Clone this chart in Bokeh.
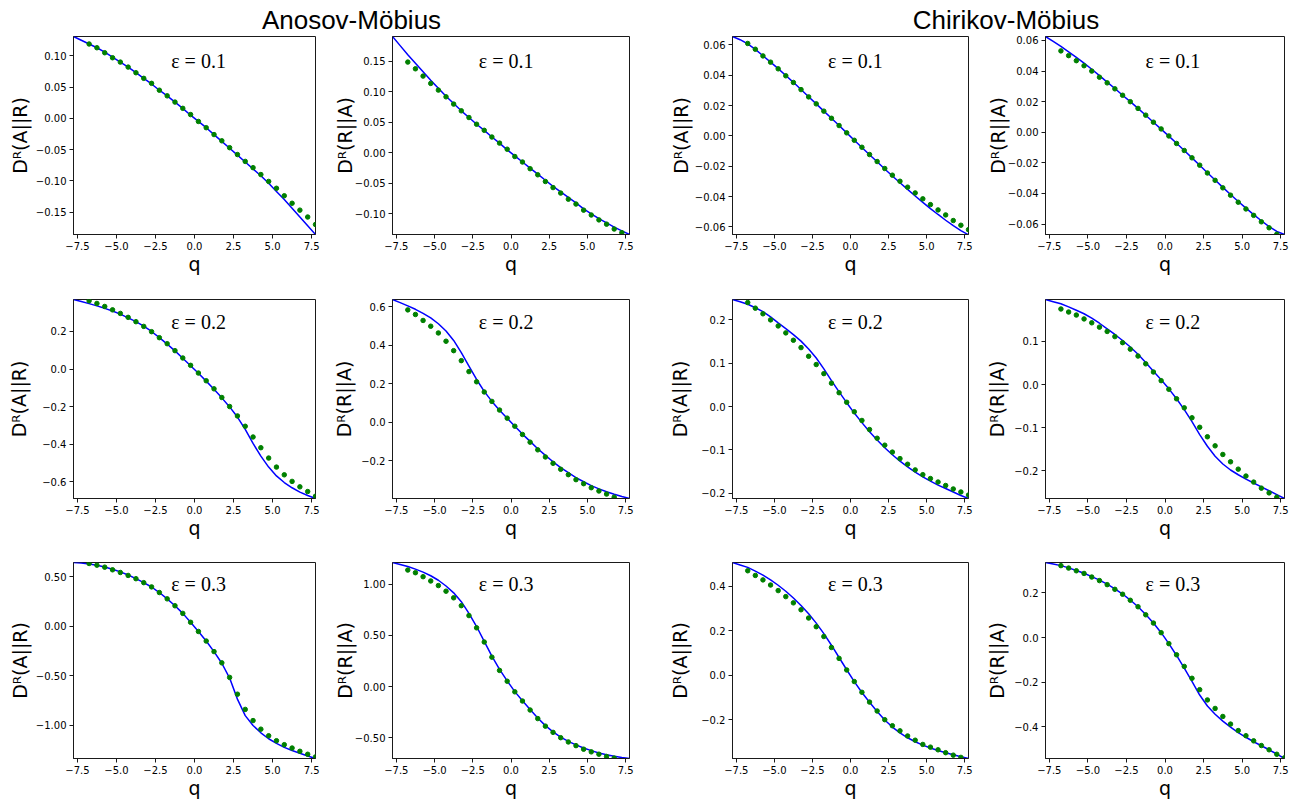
from bokeh.plotting import figure
from bokeh.layouts import column, row
from bokeh.models import Range1d, FixedTicker, Label
from bokeh.embed import file_html
from bokeh.resources import INLINE

# ---------------- data ----------------
Q = [-7.75, -7.25, -6.75, -6.25, -5.75, -5.25, -4.75, -4.25, -3.75, -3.25,
     -2.75, -2.25, -1.75, -1.25, -0.75, -0.25, 0.25, 0.75, 1.25, 1.75,
     2.25, 2.75, 3.25, 3.75, 4.25, 4.75, 5.25, 5.75, 6.25, 6.75, 7.25, 7.75]
Q_DOTS = Q[2:]

GROUPS = ["Anosov-Möbius", "Chirikov-Möbius"]
YLABELS = ["Dᴿ(A||R)", "Dᴿ(R||A)", "Dᴿ(A||R)", "Dᴿ(R||A)"]
EPS_LABELS = ["ε = 0.1", "ε = 0.2", "ε = 0.3"]
X_LABEL = "q"
X_TICKS = [-7.5, -5.0, -2.5, 0.0, 2.5, 5.0, 7.5]
X_TICK_LABELS = ["−7.5", "−5.0", "−2.5", "0.0", "2.5", "5.0", "7.5"]

# eps = 0.1
AM1_AR_LINE = [0.131, 0.125, 0.119, 0.113, 0.106, 0.098, 0.090, 0.082, 0.073, 0.064, 0.055, 0.045, 0.036, 0.026, 0.016, 0.005,
               -0.005, -0.015, -0.026, -0.037, -0.048, -0.059, -0.070, -0.081, -0.092, -0.104, -0.117, -0.130, -0.144, -0.158, -0.172, -0.186]
AM1_AR_DOTS = [0.119, 0.113, 0.105, 0.097, 0.090, 0.082, 0.073, 0.064, 0.056, 0.045, 0.036, 0.026, 0.016, 0.006, -0.005,
               -0.015, -0.026, -0.036, -0.047, -0.058, -0.069, -0.079, -0.090, -0.101, -0.112, -0.124, -0.136, -0.147, -0.158, -0.170]
AM1_RA_LINE = [0.191, 0.176, 0.161, 0.147, 0.133, 0.119, 0.106, 0.093, 0.081, 0.069, 0.058, 0.047, 0.037, 0.026, 0.016, 0.005,
               -0.005, -0.015, -0.025, -0.035, -0.045, -0.055, -0.064, -0.073, -0.082, -0.092, -0.100, -0.108, -0.115, -0.122, -0.128, -0.134]
AM1_RA_DOTS = [0.149, 0.138, 0.126, 0.114, 0.103, 0.092, 0.080, 0.069, 0.058, 0.047, 0.037, 0.026, 0.016, 0.006, -0.006,
               -0.015, -0.026, -0.036, -0.047, -0.057, -0.066, -0.076, -0.084, -0.094, -0.102, -0.110, -0.117, -0.125, -0.131]
CM1_AR_LINE = [0.0655, 0.0634, 0.0606, 0.0570, 0.0528, 0.0486, 0.0443, 0.0398, 0.0353, 0.0306, 0.0258, 0.0211, 0.0163, 0.0116, 0.0068, 0.0020,
               -0.0029, -0.0077, -0.0124, -0.0171, -0.0218, -0.0264, -0.0309, -0.0353, -0.0396, -0.0438, -0.0479, -0.0518, -0.0556, -0.0592, -0.0624, -0.0652]
CM1_AR_DOTS = [0.0609, 0.0571, 0.0527, 0.0486, 0.0442, 0.0396, 0.0352, 0.0305, 0.0257, 0.0211, 0.0163, 0.0116, 0.0068, 0.0020, -0.0029,
               -0.0075, -0.0123, -0.0169, -0.0215, -0.0259, -0.0299, -0.0338, -0.0376, -0.0415, -0.0453, -0.0488, -0.0521, -0.0558, -0.0589, -0.0618]
CM1_RA_LINE = [0.0626, 0.0594, 0.0561, 0.0526, 0.0490, 0.0452, 0.0412, 0.0370, 0.0328, 0.0286, 0.0242, 0.0200, 0.0156, 0.0111, 0.0066, 0.0021,
               -0.0025, -0.0072, -0.0119, -0.0167, -0.0215, -0.0264, -0.0312, -0.0360, -0.0407, -0.0452, -0.0496, -0.0538, -0.0578, -0.0616, -0.0648, -0.0668]
CM1_RA_DOTS = [0.0532, 0.0501, 0.0468, 0.0435, 0.0400, 0.0360, 0.0323, 0.0284, 0.0242, 0.0200, 0.0156, 0.0112, 0.0066, 0.0022, -0.0024,
               -0.0073, -0.0119, -0.0167, -0.0215, -0.0266, -0.0314, -0.0363, -0.0411, -0.0457, -0.0501, -0.0543, -0.0585, -0.0624, -0.0666]

# eps = 0.2
AM2_AR_LINE = [0.370, 0.359, 0.348, 0.336, 0.323, 0.309, 0.292, 0.272, 0.252, 0.228, 0.200, 0.167, 0.133, 0.097, 0.058, 0.018,
               -0.022, -0.064, -0.107, -0.153, -0.201, -0.255, -0.320, -0.395, -0.463, -0.521, -0.568, -0.603, -0.631, -0.654, -0.672, -0.688]
AM2_AR_DOTS = [0.363, 0.349, 0.333, 0.315, 0.296, 0.275, 0.252, 0.227, 0.199, 0.167, 0.135, 0.098, 0.059, 0.020, -0.021,
               -0.062, -0.105, -0.151, -0.199, -0.249, -0.304, -0.361, -0.418, -0.473, -0.521, -0.562, -0.597, -0.626, -0.651, -0.676]
AM2_RA_LINE = [0.638, 0.622, 0.605, 0.587, 0.566, 0.542, 0.512, 0.474, 0.425, 0.362, 0.292, 0.222, 0.160, 0.108, 0.062, 0.020,
               -0.021, -0.062, -0.100, -0.138, -0.173, -0.206, -0.236, -0.263, -0.288, -0.310, -0.330, -0.347, -0.362, -0.375, -0.387, -0.397]
AM2_RA_DOTS = [0.584, 0.560, 0.529, 0.499, 0.464, 0.421, 0.372, 0.320, 0.263, 0.210, 0.157, 0.108, 0.063, 0.021, -0.021,
               -0.064, -0.104, -0.144, -0.181, -0.214, -0.245, -0.273, -0.299, -0.320, -0.341, -0.358, -0.374, -0.390]
CM2_AR_LINE = [0.247, 0.242, 0.236, 0.228, 0.219, 0.207, 0.193, 0.180, 0.166, 0.151, 0.133, 0.112, 0.087, 0.060, 0.034, 0.009,
               -0.015, -0.037, -0.058, -0.077, -0.095, -0.111, -0.126, -0.139, -0.151, -0.162, -0.172, -0.181, -0.189, -0.197, -0.205, -0.212]
CM2_AR_DOTS = [0.240, 0.227, 0.214, 0.200, 0.186, 0.170, 0.153, 0.136, 0.116, 0.097, 0.076, 0.054, 0.032, 0.010, -0.012,
               -0.032, -0.053, -0.073, -0.089, -0.105, -0.120, -0.133, -0.146, -0.157, -0.166, -0.174, -0.182, -0.190, -0.197, -0.204]
CM2_RA_LINE = [0.197, 0.192, 0.187, 0.180, 0.172, 0.164, 0.154, 0.142, 0.129, 0.116, 0.102, 0.087, 0.070, 0.051, 0.031, 0.011,
               -0.010, -0.033, -0.058, -0.086, -0.116, -0.143, -0.166, -0.184, -0.198, -0.209, -0.219, -0.228, -0.237, -0.246, -0.255, -0.264]
CM2_RA_DOTS = [0.175, 0.168, 0.161, 0.152, 0.143, 0.133, 0.123, 0.111, 0.097, 0.082, 0.066, 0.048, 0.029, 0.009, -0.011,
               -0.033, -0.054, -0.077, -0.099, -0.121, -0.142, -0.162, -0.179, -0.196, -0.212, -0.226, -0.240, -0.251, -0.261]

# eps = 0.3
AM3_AR_LINE = [0.645, 0.639, 0.630, 0.618, 0.600, 0.577, 0.550, 0.518, 0.482, 0.442, 0.397, 0.341, 0.277, 0.207, 0.130, 0.040,
               -0.053, -0.150, -0.257, -0.375, -0.525, -0.738, -0.905, -1.005, -1.079, -1.139, -1.186, -1.226, -1.258, -1.286, -1.313, -1.339]
AM3_AR_DOTS = [0.635, 0.618, 0.598, 0.571, 0.544, 0.514, 0.481, 0.441, 0.398, 0.341, 0.277, 0.207, 0.130, 0.040, -0.053,
               -0.150, -0.257, -0.371, -0.518, -0.688, -0.842, -0.955, -1.042, -1.109, -1.159, -1.199, -1.233, -1.266, -1.296, -1.323]
AM3_RA_LINE = [1.215, 1.196, 1.176, 1.150, 1.121, 1.085, 1.041, 0.985, 0.918, 0.831, 0.717, 0.588, 0.443, 0.297, 0.168, 0.055,
               -0.050, -0.140, -0.226, -0.309, -0.383, -0.444, -0.495, -0.537, -0.572, -0.602, -0.628, -0.651, -0.669, -0.684, -0.696, -0.705]
AM3_RA_DOTS = [1.141, 1.115, 1.076, 1.034, 0.989, 0.934, 0.869, 0.792, 0.695, 0.575, 0.436, 0.288, 0.158, 0.052, -0.052,
               -0.142, -0.230, -0.314, -0.388, -0.449, -0.501, -0.543, -0.579, -0.614, -0.640, -0.663, -0.685, -0.701]
CM3_AR_LINE = [0.506, 0.495, 0.484, 0.467, 0.449, 0.428, 0.404, 0.377, 0.347, 0.313, 0.276, 0.234, 0.187, 0.135, 0.080, 0.025,
               -0.028, -0.077, -0.121, -0.162, -0.200, -0.232, -0.258, -0.280, -0.298, -0.313, -0.326, -0.337, -0.347, -0.356, -0.365, -0.373]
CM3_AR_DOTS = [0.469, 0.448, 0.428, 0.405, 0.380, 0.353, 0.325, 0.294, 0.257, 0.218, 0.174, 0.125, 0.076, 0.024, -0.028,
               -0.076, -0.120, -0.160, -0.199, -0.226, -0.249, -0.272, -0.291, -0.310, -0.322, -0.334, -0.347, -0.358, -0.368]
CM3_RA_LINE = [0.336, 0.329, 0.322, 0.312, 0.300, 0.288, 0.273, 0.257, 0.239, 0.218, 0.195, 0.168, 0.138, 0.103, 0.065, 0.022,
               -0.027, -0.080, -0.137, -0.196, -0.257, -0.306, -0.343, -0.374, -0.401, -0.425, -0.446, -0.466, -0.484, -0.502, -0.521, -0.541]
CM3_RA_DOTS = [0.322, 0.311, 0.299, 0.287, 0.271, 0.255, 0.237, 0.216, 0.194, 0.167, 0.138, 0.102, 0.065, 0.022, -0.027,
               -0.077, -0.129, -0.182, -0.233, -0.279, -0.317, -0.353, -0.387, -0.416, -0.439, -0.462, -0.483, -0.502, -0.522, -0.538]

# y axis limits and ticks per panel (rows: eps, columns: AM A||R, AM R||A, CM A||R, CM R||A)
Y_LIMITS = [
    [(-0.186, 0.131), (-0.134, 0.191), (-0.065, 0.0655), (-0.0668, 0.0626)],
    [(-0.688, 0.370), (-0.397, 0.638), (-0.212, 0.247), (-0.264, 0.197)],
    [(-1.339, 0.645), (-0.705, 1.215), (-0.373, 0.506), (-0.541, 0.336)],
]
Y_TICKS = [
    [[-0.15, -0.10, -0.05, 0.0, 0.05, 0.10], [-0.10, -0.05, 0.0, 0.05, 0.10, 0.15],
     [-0.06, -0.04, -0.02, 0.0, 0.02, 0.04, 0.06], [-0.06, -0.04, -0.02, 0.0, 0.02, 0.04, 0.06]],
    [[-0.6, -0.4, -0.2, 0.0, 0.2], [-0.2, 0.0, 0.2, 0.4, 0.6],
     [-0.2, -0.1, 0.0, 0.1, 0.2], [-0.2, -0.1, 0.0, 0.1]],
    [[-1.0, -0.5, 0.0, 0.5], [-0.5, 0.0, 0.5, 1.0],
     [-0.2, 0.0, 0.2, 0.4], [-0.4, -0.2, 0.0, 0.2]],
]
Y_TICK_LABELS = [
    [["−0.15", "−0.10", "−0.05", "0.00", "0.05", "0.10"], ["−0.10", "−0.05", "0.00", "0.05", "0.10", "0.15"],
     ["−0.06", "−0.04", "−0.02", "0.00", "0.02", "0.04", "0.06"], ["−0.06", "−0.04", "−0.02", "0.00", "0.02", "0.04", "0.06"]],
    [["−0.6", "−0.4", "−0.2", "0.0", "0.2"], ["−0.2", "0.0", "0.2", "0.4", "0.6"],
     ["−0.2", "−0.1", "0.0", "0.1", "0.2"], ["−0.2", "−0.1", "0.0", "0.1"]],
    [["−1.00", "−0.50", "0.00", "0.50"], ["−0.50", "0.00", "0.50", "1.00"],
     ["−0.2", "0.0", "0.2", "0.4"], ["−0.4", "−0.2", "0.0", "0.2"]],
]

LINES = [[AM1_AR_LINE, AM1_RA_LINE, CM1_AR_LINE, CM1_RA_LINE],
         [AM2_AR_LINE, AM2_RA_LINE, CM2_AR_LINE, CM2_RA_LINE],
         [AM3_AR_LINE, AM3_RA_LINE, CM3_AR_LINE, CM3_RA_LINE]]
DOTS = [[AM1_AR_DOTS, AM1_RA_DOTS, CM1_AR_DOTS, CM1_RA_DOTS],
        [AM2_AR_DOTS, AM2_RA_DOTS, CM2_AR_DOTS, CM2_RA_DOTS],
        [AM3_AR_DOTS, AM3_RA_DOTS, CM3_AR_DOTS, CM3_RA_DOTS]]

# ---------------- layout ----------------
COL_LEFT = [73, 59, 61, 60]
COL_FRAME = [242, 240, 241, 241]
COL_RIGHT = [15, 37, 15, 24]
ROW_TOP = [1, 8, 8]
ROW_FRAME = [198, 199, 198]
ROW_BOTTOM = [57, 56, 41]
HEAD_H = 35
HEAD_CY = 19                        # header text centre, px from the top
YLABEL_DIST = [51, 45, 49, 45]      # frame left edge -> y label centre
EPS_X = [0.26, -0.32, 0.32, 0.51]   # label centre in data units
EPS_Y_FRAC = [0.124, 0.113, 0.108]  # label centre below frame top, fraction of frame
FONT = "DejaVu Sans"
TICK_PX = 10
LABEL_PX = 19
CHAR_W = {"−": 0.838, ".": 0.318}


def label_width(s):
    return sum(CHAR_W.get(c, 0.636) for c in s) * TICK_PX


def make_panel(r, c):
    lo, hi = Y_LIMITS[r][c]
    p = figure(width=COL_LEFT[c] + COL_FRAME[c] + COL_RIGHT[c],
               height=ROW_TOP[r] + ROW_FRAME[r] + ROW_BOTTOM[r],
               x_range=Range1d(-7.75, 7.75), y_range=Range1d(lo, hi),
               min_border_left=COL_LEFT[c], min_border_right=COL_RIGHT[c],
               min_border_top=ROW_TOP[r], min_border_bottom=ROW_BOTTOM[r],
               title=None, toolbar_location=None, output_backend="svg")
    p.grid.visible = False
    p.outline_line_color = "#1a1a1a"
    p.outline_line_width = 1
    p.background_fill_color = "white"
    p.border_fill_color = "white"

    p.line(Q, LINES[r][c], line_color="blue", line_width=1.5)
    d = DOTS[r][c]
    p.scatter(Q_DOTS[:len(d)], d, size=4.5, color="green")

    for ax in (p.xaxis[0], p.yaxis[0]):
        ax.axis_line_color = "#1a1a1a"
        ax.major_tick_line_color = "#1a1a1a"
        ax.major_tick_in = 0
        ax.major_tick_out = 4
        ax.minor_tick_line_color = None
        ax.major_label_text_font = FONT
        ax.major_label_text_font_size = f"{TICK_PX}px"
        ax.major_label_text_color = "black"
        ax.major_label_standoff = 3
        ax.axis_label_text_font = FONT
        ax.axis_label_text_font_size = f"{LABEL_PX}px"
        ax.axis_label_text_font_style = "normal"
        ax.axis_label_text_color = "black"

    xa = p.xaxis[0]
    xa.ticker = FixedTicker(ticks=X_TICKS)
    xa.major_label_overrides = dict(zip(X_TICKS, X_TICK_LABELS))
    xa.axis_label = X_LABEL
    xa.axis_label_standoff = 0

    ya = p.yaxis[0]
    ya.ticker = FixedTicker(ticks=Y_TICKS[r][c])
    ya.major_label_overrides = dict(zip(Y_TICKS[r][c], Y_TICK_LABELS[r][c]))
    ya.axis_label = YLABELS[c]
    w = max(label_width(s) for s in Y_TICK_LABELS[r][c])
    ya.axis_label_standoff = int(round(YLABEL_DIST[c] - 4 - 3 - w - LABEL_PX * 1.164 / 2))

    p.add_layout(Label(x=EPS_X[c], y=hi - EPS_Y_FRAC[r] * (hi - lo), text=EPS_LABELS[r],
                       text_font="Liberation Serif", text_font_size="20px",
                       text_align="center", text_baseline="middle", text_color="black"))
    return p


TOTAL_W = sum(COL_LEFT) + sum(COL_FRAME) + sum(COL_RIGHT)
head = figure(width=TOTAL_W, height=HEAD_H, x_range=Range1d(0, TOTAL_W), y_range=Range1d(0, HEAD_H),
              x_axis_location=None, y_axis_location=None, min_border=0, title=None,
              toolbar_location=None, output_backend="svg")
head.grid.visible = False
head.outline_line_color = None
head.border_fill_color = "white"
head.background_fill_color = "white"
head_x = [COL_LEFT[0] + (COL_FRAME[0] + COL_RIGHT[0] + COL_LEFT[1] + COL_FRAME[1]) / 2,
          sum(COL_LEFT[:3]) + sum(COL_FRAME[:2]) + sum(COL_RIGHT[:2])
          + (COL_FRAME[2] + COL_RIGHT[2] + COL_LEFT[3] + COL_FRAME[3]) / 2]
for gx, gt in zip(head_x, GROUPS):
    head.add_layout(Label(x=gx, y=HEAD_H - HEAD_CY, text=gt, text_font="Liberation Sans", text_font_size="26px",
                          text_align="center", text_baseline="middle", text_color="black"))

rows = [row(*[make_panel(r, c) for c in range(4)], spacing=0) for r in range(3)]
layout = column(head, *rows, spacing=0)

open("out.html", "w").write(file_html(layout, INLINE))
